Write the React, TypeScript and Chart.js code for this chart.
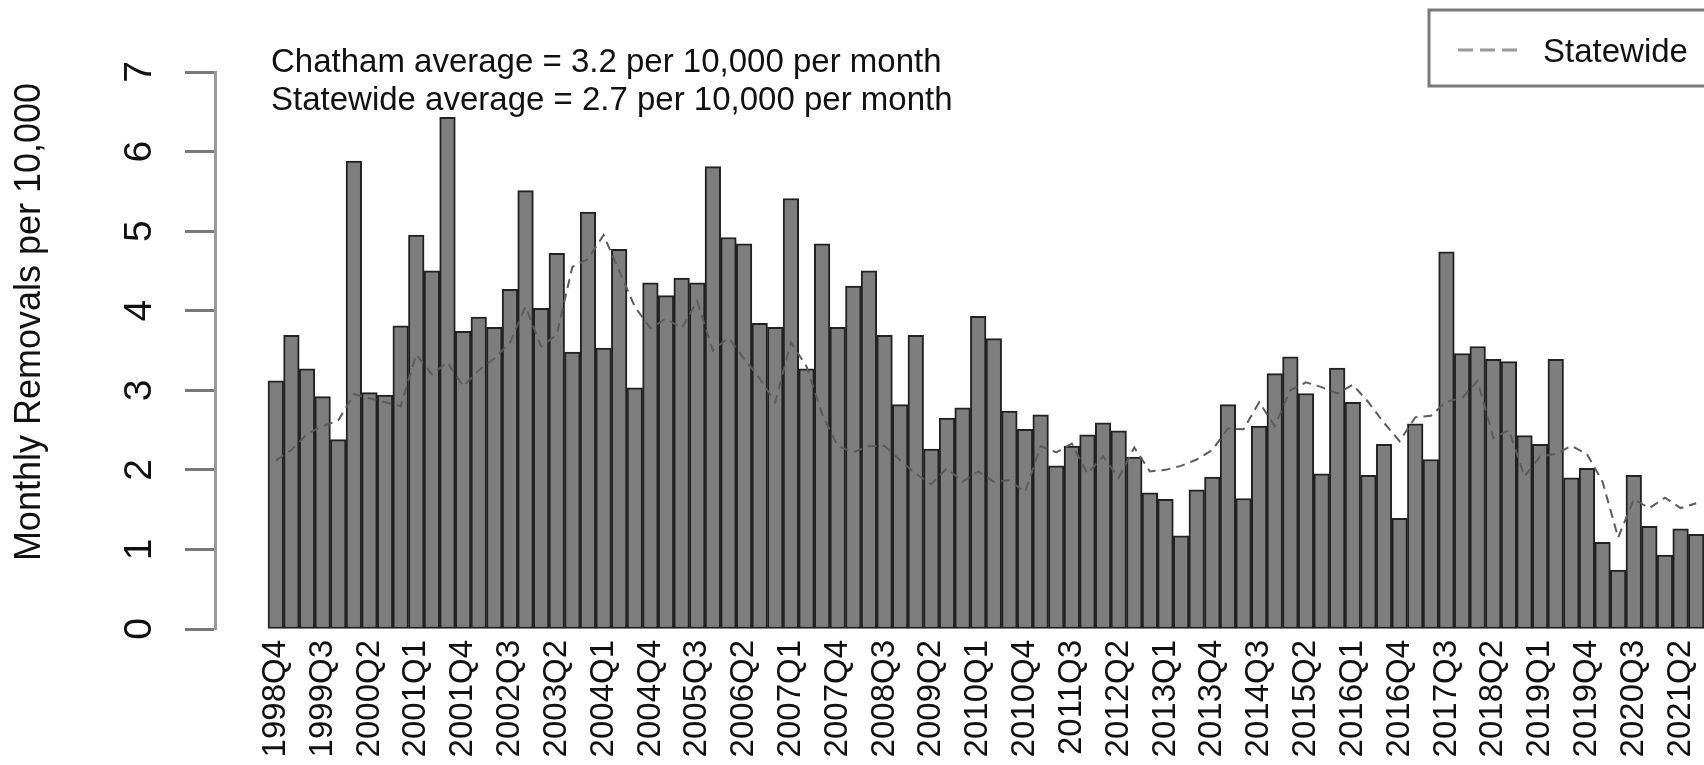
import React, { useEffect, useRef } from 'react';
import { Chart, registerables } from 'chart.js';

Chart.register(...registerables);

const quarters = [
  '1998Q4',
  '1999Q1', '1999Q2', '1999Q3', '1999Q4',
  '2000Q1', '2000Q2', '2000Q3', '2000Q4',
  '2001Q1', '2001Q2', '2001Q3', '2001Q4',
  '2002Q1', '2002Q2', '2002Q3', '2002Q4',
  '2003Q1', '2003Q2', '2003Q3', '2003Q4',
  '2004Q1', '2004Q2', '2004Q3', '2004Q4',
  '2005Q1', '2005Q2', '2005Q3', '2005Q4',
  '2006Q1', '2006Q2', '2006Q3', '2006Q4',
  '2007Q1', '2007Q2', '2007Q3', '2007Q4',
  '2008Q1', '2008Q2', '2008Q3', '2008Q4',
  '2009Q1', '2009Q2', '2009Q3', '2009Q4',
  '2010Q1', '2010Q2', '2010Q3', '2010Q4',
  '2011Q1', '2011Q2', '2011Q3', '2011Q4',
  '2012Q1', '2012Q2', '2012Q3', '2012Q4',
  '2013Q1', '2013Q2', '2013Q3', '2013Q4',
  '2014Q1', '2014Q2', '2014Q3', '2014Q4',
  '2015Q1', '2015Q2', '2015Q3', '2015Q4',
  '2016Q1', '2016Q2', '2016Q3', '2016Q4',
  '2017Q1', '2017Q2', '2017Q3', '2017Q4',
  '2018Q1', '2018Q2', '2018Q3', '2018Q4',
  '2019Q1', '2019Q2', '2019Q3', '2019Q4',
  '2020Q1', '2020Q2', '2020Q3', '2020Q4',
  '2021Q1', '2021Q2', '2021Q3',
];

const chathamRates = [
  3.12,
  3.69, 3.27, 2.92, 2.38,
  5.88, 2.97, 2.94, 3.81,
  4.95, 4.50, 6.43, 3.74,
  3.92, 3.79, 4.27, 5.51,
  4.03, 4.72, 3.48, 5.24,
  3.53, 4.77, 3.03, 4.35,
  4.19, 4.41, 4.35, 5.81,
  4.92, 4.84, 3.84, 3.79,
  5.41, 3.27, 4.84, 3.79,
  4.31, 4.50, 3.69, 2.82,
  3.69, 2.26, 2.65, 2.78,
  3.93, 3.65, 2.74, 2.51,
  2.69, 2.05, 2.30, 2.44,
  2.59, 2.49, 2.16, 1.71,
  1.63, 1.17, 1.75, 1.91,
  2.82, 1.64, 2.55, 3.21,
  3.42, 2.96, 1.95, 3.28,
  2.85, 1.93, 2.32, 1.39,
  2.58, 2.13, 4.74, 3.46,
  3.55, 3.39, 3.36, 2.43,
  2.32, 3.39, 1.90, 2.02,
  1.09, 0.74, 1.93, 1.29,
  0.93, 1.26, 1.19,
];

const statewideRates = [
  2.12,
  2.25, 2.45, 2.55, 2.62,
  2.95, 2.90, 2.85, 2.80,
  3.45, 3.20, 3.35, 3.05,
  3.25, 3.40, 3.60, 4.05,
  3.55, 3.70, 4.55, 4.65,
  4.95, 4.50, 4.05, 3.78,
  3.90, 3.78, 4.12, 3.50,
  3.66, 3.40, 3.15, 2.85,
  3.60, 3.30, 2.70, 2.30,
  2.22, 2.30, 2.30, 2.12,
  1.95, 1.82, 2.02, 1.85,
  1.98, 1.85, 1.87, 1.72,
  2.30, 2.22, 2.33, 1.95,
  2.17, 1.90, 2.28, 1.98,
  2.00, 2.05, 2.13, 2.25,
  2.52, 2.51, 2.85, 2.55,
  3.00, 3.10, 3.04, 2.96,
  3.07, 2.85, 2.59, 2.36,
  2.66, 2.68, 2.86, 2.90,
  3.12, 2.40, 2.50, 1.92,
  2.17, 2.20, 2.30, 2.20,
  1.85, 1.15, 1.63, 1.52,
  1.65, 1.52, 1.58,
];

const shownQuarterLabels = [
  '1998Q4', '1999Q3', '2000Q2', '2001Q1', '2001Q4', '2002Q3', '2003Q2', '2004Q1',
  '2004Q4', '2005Q3', '2006Q2', '2007Q1', '2007Q4', '2008Q3', '2009Q2', '2010Q1',
  '2010Q4', '2011Q3', '2012Q2', '2013Q1', '2013Q4', '2014Q3', '2015Q2', '2016Q1',
  '2016Q4', '2017Q3', '2018Q2', '2019Q1', '2019Q4', '2020Q3', '2021Q2',
];

const yTickValues = [0, 1, 2, 3, 4, 5, 6, 7];
const yAxisTitle = 'Monthly Removals per 10,000';
const annotationLines = [
  'Chatham average = 3.2 per 10,000 per month',
  'Statewide average = 2.7 per 10,000 per month',
];
const legendLabel = 'Statewide';

const FONT = '"Liberation Sans", Arial, Helvetica, sans-serif';
const W = 1704;
const H = 765;

const textPlugin = {
  id: 'rStyleText',
  afterDraw(chart: any) {
    const ctx = chart.ctx as CanvasRenderingContext2D;
    const yScale = chart.scales.y;
    ctx.save();
    ctx.fillStyle = '#111';

    // y tick labels, rotated (R style)
    ctx.font = `39px ${FONT}`;
    ctx.textAlign = 'center';
    ctx.textBaseline = 'alphabetic';
    yTickValues.forEach((v) => {
      const py = yScale.getPixelForValue(v);
      ctx.save();
      ctx.translate(151, py);
      ctx.rotate(-Math.PI / 2);
      ctx.fillText(String(v), 0, 0);
      ctx.restore();
    });

    // y axis title
    ctx.font = `36px ${FONT}`;
    ctx.save();
    ctx.translate(40, 322);
    ctx.rotate(-Math.PI / 2);
    ctx.fillText(yAxisTitle, 0, 0);
    ctx.restore();

    // annotation lines
    ctx.font = `33px ${FONT}`;
    ctx.textAlign = 'left';
    ctx.fillText(annotationLines[0], 271, 72);
    ctx.fillText(annotationLines[1], 271, 110);

    // legend box (cut at right edge)
    ctx.strokeStyle = '#7a7a7a';
    ctx.lineWidth = 3;
    ctx.strokeRect(1429, 10, 400, 76);
    ctx.beginPath();
    ctx.setLineDash([15, 7]);
    ctx.strokeStyle = '#9a9a9a';
    ctx.lineWidth = 3;
    ctx.moveTo(1458, 50);
    ctx.lineTo(1520, 50);
    ctx.stroke();
    ctx.setLineDash([]);
    ctx.fillStyle = '#111';
    ctx.font = `33px ${FONT}`;
    ctx.fillText(legendLabel, 1543, 62);
    ctx.restore();
  },
};

export default function App() {
  const canvasRef = useRef<HTMLCanvasElement | null>(null);

  useEffect(() => {
    const canvas = canvasRef.current;
    if (!canvas) return;
    const chart = new Chart(canvas, {
      type: 'bar',
      data: {
        datasets: [
          {
            type: 'line',
            label: 'Statewide',
            data: statewideRates.map((v, i) => ({ x: i, y: v })),
            borderColor: '#5c5c5c',
            borderWidth: 2,
            borderDash: [9, 6],
            pointRadius: 0,
            fill: false,
            tension: 0,
            order: 0,
          } as any,
          {
            type: 'bar',
            label: 'Chatham',
            data: chathamRates.map((v, i) => ({ x: i, y: v })),
            backgroundColor: '#7e7e7e',
            borderColor: '#222222',
            borderWidth: 2,
            borderSkipped: false,
            barPercentage: 1,
            categoryPercentage: 1,
            order: 1,
          } as any,
        ],
      },
      options: {
        responsive: false,
        animation: false,
        devicePixelRatio: 1,
        layout: { autoPadding: false, padding: { top: 72, left: 0, right: 0, bottom: 0 } } as any,
        plugins: {
          legend: { display: false },
          tooltip: { enabled: false },
          title: { display: false },
        },
        scales: {
          x: {
            type: 'linear',
            offset: false,
            min: -3.895,
            max: 91.5,
            afterBuildTicks: (scale: any) => {
              scale.ticks = shownQuarterLabels.map((l) => ({ value: quarters.indexOf(l) }));
            },
            afterFit: (scale: any) => {
              scale.height = 136;
              scale.paddingLeft = 0;
              scale.paddingRight = 0;
            },
            grid: { display: false, drawTicks: false, offset: false },
            border: { display: false },
            ticks: {
              autoSkip: false,
              minRotation: 90,
              maxRotation: 90,
              padding: 11,
              color: '#111',
              font: { size: 33, family: FONT },
              callback: (v: any) => quarters[Math.round(Number(v))] ?? '',
            },
          },
          y: {
            type: 'linear',
            min: 0,
            max: 7,
            afterFit: (scale: any) => {
              scale.width = 215;
            },
            ticks: { display: false, stepSize: 1 },
            grid: {
              drawOnChartArea: false,
              drawTicks: true,
              tickLength: 30,
              tickColor: '#787878',
              tickWidth: 3,
            },
            border: { display: true, color: '#9a9a9a', width: 3 },
          },
        },
      } as any,
      plugins: [textPlugin],
    });
    return () => chart.destroy();
  }, []);

  return (
    <div style={{ position: 'absolute', left: 0, top: 0, width: W, height: H, overflow: 'hidden', background: '#fff' }}>
      <canvas ref={canvasRef} width={W} height={H} style={{ width: W, height: H, display: 'block' }} />
    </div>
  );
}
